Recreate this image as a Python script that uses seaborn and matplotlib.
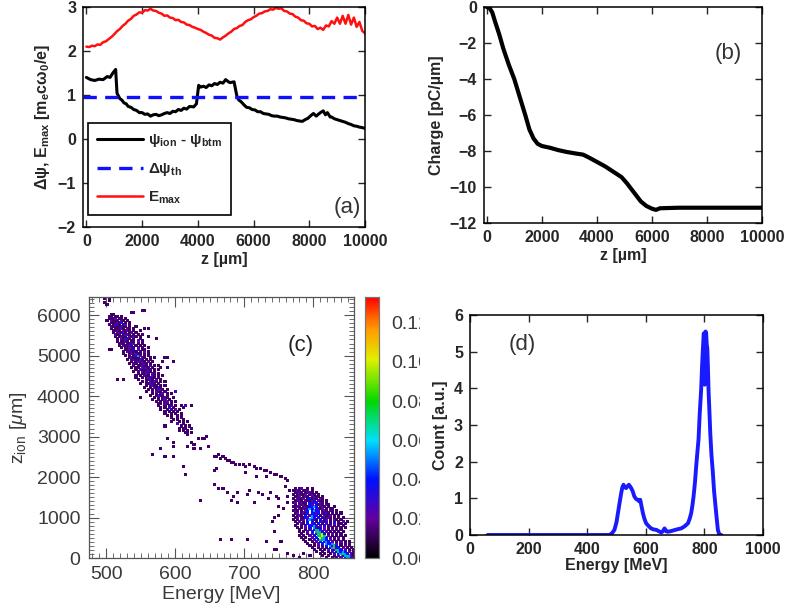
import numpy as np
import pandas as pd
import matplotlib
matplotlib.use("Agg")
import matplotlib.pyplot as plt
import seaborn as sns
from matplotlib.colors import LinearSegmentedColormap
from matplotlib.ticker import MultipleLocator
from matplotlib.transforms import Bbox, TransformedBbox

# ---------------- data ----------------
# (a) max field and potential difference along z  (z in um)
emax_pts = [(0, 2.10), (100, 2.09), (200, 2.12), (300, 2.11), (400, 2.15), (500, 2.14),
            (600, 2.20), (700, 2.22), (800, 2.27), (900, 2.32), (1000, 2.38), (1100, 2.45),
            (1200, 2.50), (1300, 2.57), (1400, 2.62), (1500, 2.69), (1600, 2.73), (1700, 2.80),
            (1800, 2.83), (1900, 2.88), (2000, 2.87), (2100, 2.93), (2200, 2.92), (2300, 2.96),
            (2400, 2.92), (2500, 2.91), (2600, 2.87), (2700, 2.85), (2800, 2.80), (2900, 2.81),
            (3000, 2.76), (3100, 2.75), (3200, 2.70), (3300, 2.71), (3400, 2.66), (3500, 2.65),
            (3600, 2.60), (3700, 2.59), (3800, 2.55), (3900, 2.53), (4000, 2.50), (4100, 2.48),
            (4200, 2.44), (4300, 2.41), (4400, 2.37), (4500, 2.35), (4600, 2.30), (4700, 2.29),
            (4800, 2.26), (4900, 2.31), (5000, 2.35), (5100, 2.40), (5200, 2.44), (5300, 2.50),
            (5400, 2.52), (5500, 2.57), (5600, 2.59), (5700, 2.66), (5800, 2.70), (5900, 2.72),
            (6000, 2.77), (6100, 2.80), (6200, 2.85), (6300, 2.86), (6400, 2.90), (6500, 2.91),
            (6600, 2.95), (6700, 2.94), (6800, 2.98), (6900, 2.96), (7000, 2.97), (7100, 2.91),
            (7200, 2.90), (7300, 2.85), (7400, 2.84), (7500, 2.78), (7600, 2.76), (7700, 2.70),
            (7800, 2.69), (7900, 2.63), (8000, 2.62), (8100, 2.56), (8200, 2.57), (8300, 2.50),
            (8400, 2.53), (8500, 2.48), (8600, 2.58), (8700, 2.56), (8800, 2.68), (8900, 2.62),
            (9000, 2.76), (9100, 2.62), (9200, 2.80), (9300, 2.62), (9400, 2.82), (9500, 2.60),
            (9600, 2.76), (9700, 2.55), (9800, 2.66), (9900, 2.46), (10000, 2.40)]
psi_pts = [(0, 1.40), (150, 1.35), (300, 1.33), (450, 1.36), (600, 1.35), (750, 1.42),
           (850, 1.40), (950, 1.50), (1050, 1.58), (1100, 1.04), (1200, 0.92), (1280, 0.88),
           (1350, 0.82), (1430, 0.80), (1500, 0.74), (1600, 0.72), (1700, 0.67), (1800, 0.65),
           (1900, 0.60), (2000, 0.60), (2100, 0.56), (2200, 0.57), (2300, 0.52), (2400, 0.55),
           (2500, 0.56), (2600, 0.53), (2700, 0.55), (2800, 0.58), (2900, 0.60), (3000, 0.58),
           (3100, 0.63), (3200, 0.62), (3300, 0.67), (3400, 0.65), (3500, 0.70), (3600, 0.68),
           (3700, 0.74), (3850, 0.73), (3950, 0.80), (4030, 1.22), (4100, 1.18), (4200, 1.20),
           (4300, 1.17), (4400, 1.23), (4500, 1.21), (4600, 1.26), (4700, 1.24), (4800, 1.29),
           (4900, 1.27), (5000, 1.35), (5100, 1.30), (5150, 1.28), (5300, 1.30), (5410, 0.95),
           (5480, 0.88), (5550, 0.85), (5650, 0.78), (5750, 0.72), (5850, 0.71), (5950, 0.67),
           (6050, 0.66), (6150, 0.62), (6250, 0.62), (6350, 0.58), (6450, 0.57), (6550, 0.56),
           (6650, 0.53), (6750, 0.52), (6850, 0.52), (6950, 0.50), (7050, 0.49), (7150, 0.48),
           (7250, 0.46), (7350, 0.45), (7450, 0.44), (7550, 0.42), (7650, 0.41), (7750, 0.40),
           (7850, 0.44), (7950, 0.47), (8050, 0.53), (8150, 0.58), (8250, 0.52), (8300, 0.55),
           (8400, 0.60), (8500, 0.64), (8580, 0.55), (8650, 0.60), (8750, 0.50), (8800, 0.50),
           (8900, 0.46), (9000, 0.44), (9100, 0.42), (9200, 0.40), (9300, 0.38), (9400, 0.35),
           (9500, 0.33), (9600, 0.30), (9700, 0.29), (9800, 0.27), (9900, 0.26), (10000, 0.24)]
psi_threshold = 0.95

# (b) charge along z
charge_pts = [(0, 0.0), (100, -0.05), (200, -0.3), (300, -0.8), (450, -1.5), (600, -2.3),
              (800, -3.2), (1000, -4.0), (1200, -5.0), (1400, -6.0), (1550, -6.8), (1700, -7.3),
              (1850, -7.6), (2000, -7.72), (2300, -7.82), (2600, -7.95), (2900, -8.05),
              (3200, -8.13), (3500, -8.2), (3700, -8.35), (4000, -8.6), (4300, -8.85),
              (4600, -9.15), (4900, -9.45), (5100, -9.8), (5300, -10.2), (5450, -10.5),
              (5600, -10.8), (5800, -11.05), (6000, -11.2), (6150, -11.27), (6300, -11.18),
              (7000, -11.15), (8000, -11.15), (9000, -11.15), (10000, -11.15)]

# (d) energy spectrum
spectrum_pts = [(60, 0), (200, 0), (300, 0), (400, 0), (476, 0), (485, 0.05), (493, 0.14),
                (500, 0.35), (505, 0.6), (510, 0.85), (516, 1.14), (520, 1.3), (524, 1.37),
                (528, 1.3), (533, 1.28), (538, 1.33), (542, 1.37), (546, 1.33), (550, 1.28),
                (555, 1.2), (561, 1.05), (567, 0.98), (573, 0.96), (577, 0.92), (581, 0.96),
                (585, 0.8), (590, 0.6), (595, 0.45), (601, 0.32), (610, 0.24), (618, 0.18),
                (627, 0.15), (636, 0.14), (645, 0.1), (653, 0.07), (658, 0.1), (664, 0.18),
                (670, 0.1), (675, 0.09), (683, 0.1), (692, 0.12), (705, 0.15), (721, 0.18),
                (733, 0.24), (744, 0.32), (750, 0.45), (755, 0.6), (759, 0.8), (763, 1.05),
                (768, 1.45), (772, 1.88), (776, 2.25), (780, 2.61), (784, 3.3), (789, 3.98),
                (792, 4.6), (795, 5.1), (798, 5.5), (801, 4.1), (804, 5.55), (806, 5.5),
                (808, 5.2), (810, 5.08), (812, 4.6), (814, 3.98), (817, 3.4), (820, 2.79),
                (824, 2.2), (829, 1.69), (833, 1.2), (838, 0.78), (842, 0.45), (846, 0.14),
                (850, 0.03), (854, 0), (858, 0)]

# (c) ionization position vs energy: cell rows "z_center  E_start  cells"
# cell code: . empty, 1..7 increasing charge
cell_level = {"1": 0.013, "2": 0.022, "3": 0.038, "4": 0.053, "5": 0.075, "6": 0.1, "7": 0.122}
upper_band = [
    "6425 496 1.1", "6375 496 ..1", "6325 496 1", "6275 499 1", "6125 550 1",
    "6075 535 1", "6025 502 .11", "5975 499 .11.11.1", "5925 499 .1112.11.1",
    "5875 499 1.2111.21.1", "5825 502 .111213.1.1", "5775 502 1.1231.12.1",
    "5725 502 .21111211.1..1", "5675 505 1.11121.21.1....1", "5625 505 .1121.2121.1..1",
    "5575 508 1.12131.12.1", "5525 508 .211.1221.1.1.1", "5475 511 1.1211.2121.1...1",
    "5425 511 .1.21231.1..1", "5375 514 1.1121.11.2.1", "5325 514 .121.1132.1.1",
    "5275 517 1.21121.1.1.1", "5225 517 .1.11221.2.1..1", "5175 520 ..11213.2.11",
    "5125 520 .1.21211.1.2.1", "5075 523 1..121211.1.1", "5025 523 .1.1.1342.1.1",
    "4975 526 ..12111.21..1.1....1", "4925 526 .1.121121.1.1", "4875 529 ..1.12321.2.1....1",
    "4825 529 .1.21.1121.1", "4775 532 ..1.11211.2.1.1", "4725 532 .1.11.2321.1...1",
    "4675 535 ..1.211121.1.1", "4625 535 .1.1.21231.1", "4575 538 ..1.1121.21.1",
    "4525 538 .1.1.211.21.1.1", "4475 541 1..1.12311.1", "4425 541 .1...1121.2.1",
    "4375 544 ..1.1.2121.1.1", "4325 544 .1..11231.1", "4275 547 ...1.1211.1.1",
    "4225 547 ..1..1.2131", "4175 550 ...1.1.1221.1", "4125 550 ..1..1.211.1....1",
    "4075 553 ....1.1.12.1.1", "4025 553 ...1..1231.1", "3975 556 ....1.1.121..1",
    "3925 556 ...1..1.12.1", "3875 559 ....1.1.12.1.1", "3825 559 .....11.21.1",
    "3775 562 ....1..1.12.1..1.1", "3725 562 .....1.1.3.1....1", "3675 565 ....1..1.1.2.1",
    "3625 565 ......1.1.1.1", "3575 568 .....1..1.1..1", "3525 568 ......1.1..1.1",
    "3475 571 .......1..1.1", "3425 571 ........1.1..1", "3375 574 ......1...1.1.1",
    "3325 574 .........1..1", "3275 577 ..........1.1.1", "3225 577 .........1..1..1",
    "3175 580 ..........1.1", "3125 580 ...........1..1", "3075 583 ...........1",
]
lower_cluster = [
    "1725 766 ..1.12..1.1", "1675 766 .1121.112.1", "1625 766 ..1121.1121.1",
    "1575 766 .1.12112.121.1", "1525 766 ..112.121.1211.1", "1475 766 .1.2112.13121.21",
    "1425 766 ..1121.21123.211.1", "1375 766 .12.1211.3323.21.1",
    "1325 766 ..1.2121.32.3121.21", "1275 766 .1121.1213343.121.1..1",
    "1225 766 ..1.2121343.3212.1.11", "1175 766 .121.1.23.3433.121.21.1",
    "1125 766 ..12.1213.3323.2131.1.1.1", "1075 766 .1.121.3.2433.1.2112.1.1",
    "1025 766 ..12.1132.43.3.13121.1.1.1", "975 766 .1.1.12.34321.3.12.1.21.1",
    "925 766 ..1.2.1.3.3.1.3213.1.3.1.2.1", "875 766 ...1.21.3.23.3.1.2.1.2.11.1",
    "825 766 ..1..1.2.3342.2.3.12.1.1.1", "775 766 ...1.1.2.3.4313.2.1.1.2.1.1",
    "725 766 ....1..1.2.3542.2.1.2.1.1", "675 766 ....1.1.2.3.4543.2.1.1.1.1",
    "625 766 .....1..1.2.25563.1.2.1.1", "575 766 ....1.1..2.3.4565.2.1.1.1.1",
    "525 766 .....1.1..2.3.6543.2.1.2.1", "475 766 ......1..1.2.35443.2.1.1.1",
    "425 766 .......1..1.2.3.343.2.1.2.1.1", "375 766 ........1..1.2.3.4334.2.1.1.1",
    "325 766 .........1.1.2.1.3.4353.1.2.1", "275 766 ..........1..1.2.1.34733.2.1.1",
    "225 766 ...........1..1.1.2.33543.2.1.1", "175 766 ............1..1..1.2.35343.2.1",
    "125 766 ..............1.1..1.2.34543.21", "75 766 ...............1..1..1.2.345421",
    "25 766 .................1..1.1.2.34432",
]
# isolated cells (energy MeV, z um)
scatter_cells = [
    (553, 6125), (538, 6050), (560, 5680), (572, 5430), (586, 4970), (595, 4890), (588, 4730),
    (598, 4110), (615, 3780), (622, 3780), (507, 5190), (503, 5150), (514, 4400), (525, 4400),
    (547, 3950), (583, 3285), (601, 3300), (606, 3150), (612, 3200), (618, 3110),
    (586, 2960), (596, 2865), (596, 2790), (579, 2720), (567, 2570), (596, 2500), (585, 2540),
    (618, 2790), (622, 2865), (627, 2840), (632, 2960), (637, 2990), (641, 2960), (644, 3040),
    (648, 2790), (634, 2740), (625, 2720), (611, 2250), (615, 2050), (634, 1430),
    (655, 2500), (658, 2530), (661, 2550), (664, 2480), (667, 2520), (670, 2450), (673, 2400),
    (676, 2430), (679, 2380), (683, 2370), (660, 2200), (655, 2150),
    (687, 2330), (692, 2300), (697, 2300), (702, 2280), (707, 2300), (712, 2250), (717, 2230),
    (722, 2200), (727, 2170), (732, 2150), (737, 2120), (742, 2080), (747, 2050), (700, 2100),
    (715, 2000), (730, 2000), (752, 2000), (757, 1950), (762, 1900),
    (655, 1800), (662, 1700), (668, 1720), (675, 1640), (684, 1500), (690, 1600), (703, 1580),
    (708, 1650), (713, 1380), (720, 1620), (725, 1550), (733, 1480), (738, 1600), (745, 1520),
    (750, 1450), (681, 1420), (690, 1360), (742, 1000), (748, 1280), (750, 1080), (740, 900),
    (755, 1200), (760, 1350), (762, 1500), (765, 1650), (758, 1750),
    (742, 690), (752, 430), (732, 420), (705, 450), (680, 450), (665, 460), (742, 200),
    (745, 200), (762, 125), (770, 75), (778, 25), (785, 100), (795, 50),
]
zion_ticks = [0, 1000, 2000, 3000, 4000, 5000, 6000]
cbar_ticks = [0.00, 0.02, 0.04, 0.06, 0.08, 0.10, 0.12]
cbar_top = 0.133

# ---------------- build tables ----------------
z_emax, emax = zip(*emax_pts)
z_psi, psi = zip(*psi_pts)
z_charge, charge = zip(*charge_pts)
energy_d, count_d = zip(*spectrum_pts)

cells = []
for row in upper_band + lower_cluster:
    z_txt, e_txt, code = row.split()
    for i, ch in enumerate(code):
        if ch != ".":
            cells.append((float(e_txt) + 3 * i + 1.5, float(z_txt), cell_level[ch]))
for e, z in scatter_cells:
    cells.append((e, z, cell_level["1"]))
hist_df = pd.DataFrame(cells, columns=["energy", "zion", "w"])

# ---------------- style ----------------
sns.set_style("white")
plt.rcParams["font.family"] = ["Liberation Sans", "DejaVu Sans"]
plt.rcParams["mathtext.fontset"] = "custom"
plt.rcParams["mathtext.rm"] = "Liberation Sans"
plt.rcParams["mathtext.it"] = "Liberation Sans:italic"
plt.rcParams["mathtext.bf"] = "Liberation Sans:bold"

fig = plt.figure(figsize=(7.87, 6.11), dpi=100)
ax_a = fig.add_axes([0.1055, 0.6285, 0.3583, 0.36])
ax_b = fig.add_axes([0.615, 0.635, 0.353, 0.3535])
ax_c = fig.add_axes([0.113, 0.0867, 0.3368, 0.4272])
cax = fig.add_axes([0.4638, 0.0867, 0.0178, 0.4272])
ax_d = fig.add_axes([0.5972, 0.1244, 0.3723, 0.36])


def bold_box(ax):
    for sp in ax.spines.values():
        sp.set_visible(True)
        sp.set_color("black")
        sp.set_linewidth(1.1)
    ax.tick_params(direction="in", length=5, width=1.0, top=True, right=True,
                   bottom=True, left=True, labelsize=11.5, pad=5)
    for lbl in ax.get_xticklabels() + ax.get_yticklabels():
        lbl.set_fontweight("bold")


# (a)
sns.lineplot(x=z_psi, y=psi, ax=ax_a, color="black", lw=2.2, sort=False)
ax_a.axhline(psi_threshold, color="#1010ff", lw=2.4, dashes=(4, 2.5))
sns.lineplot(x=z_emax, y=emax, ax=ax_a, color="#ff1010", lw=1.8, sort=False)
ax_a.set_xlim(-120, 10000)
ax_a.set_ylim(-2, 3)
ax_a.set_xticks([0, 2000, 4000, 6000, 8000, 10000])
ax_a.set_yticks([-2, -1, 0, 1, 2, 3])
bold_box(ax_a)
ax_a.set_xlabel("z [µm]", fontsize=11.5, fontweight="bold", labelpad=2)
ax_a.set_ylabel("Δψ, E$_{\\mathbf{max}}$ [m$_{\\mathbf{e}}$cω$_{\\mathbf{0}}$/e]",
                fontsize=11.5, fontweight="bold", labelpad=4)
lines = ax_a.get_lines()
leg = ax_a.legend([lines[0], lines[1], lines[2]],
                  ["ψ$_{\\mathbf{ion}}$ - ψ$_{\\mathbf{btm}}$", "Δψ$_{\\mathbf{th}}$",
                   "E$_{\\mathbf{max}}$"],
                  loc="lower left", bbox_to_anchor=(0.018, 0.055), borderaxespad=0,
                  fancybox=False, edgecolor="black", framealpha=1,
                  prop=dict(weight="bold", size=11), handlelength=3.0,
                  labelspacing=0.75, borderpad=0.6, handletextpad=0.3)
leg.get_frame().set_linewidth(1.2)
ax_a.text(0.985, 0.09, "(a)", transform=ax_a.transAxes, ha="right", va="center",
          fontsize=16, color="#333333")

# (b)
sns.lineplot(x=z_charge, y=charge, ax=ax_b, color="black", lw=3.0, sort=False)
ax_b.set_xlim(-100, 10000)
ax_b.set_ylim(-12, 0)
ax_b.set_xticks([0, 2000, 4000, 6000, 8000, 10000])
ax_b.set_yticks([0, -2, -4, -6, -8, -10, -12])
bold_box(ax_b)
ax_b.set_xlabel("z [µm]", fontsize=11.5, fontweight="bold", labelpad=2)
ax_b.set_ylabel("Charge [pC/µm]", fontsize=11.5, fontweight="bold", labelpad=4)
ax_b.text(0.878, 0.787, "(b)", transform=ax_b.transAxes, ha="center", va="center",
          fontsize=16, color="#333333")

# (c)
idl_rainbow = LinearSegmentedColormap.from_list(
    "idl_rainbow",
    [(0.0, "#000000"), (0.15, "#6400a0"), (0.3, "#0010ff"), (0.45, "#00e0ff"),
     (0.6, "#00d800"), (0.76, "#e0f000"), (0.88, "#ff9a00"), (1.0, "#ff0000")])
sns.histplot(data=hist_df, x="energy", y="zion", weights="w", ax=ax_c,
             bins=[np.arange(475, 860, 3), np.arange(0, 6451, 50)],
             cmap=idl_rainbow, vmax=cbar_top, cbar=True, cbar_ax=cax)
mesh = ax_c.collections[0]
mesh.set_clim(0, cbar_top)
mesh.set_edgecolor("face")
mesh.set_linewidth(0.6)
ax_c.set_xlim(475, 859)
ax_c.set_ylim(0, 6450)
ax_c.set_xticks([500, 600, 700, 800])
ax_c.set_yticks(zion_ticks)
ax_c.xaxis.set_minor_locator(MultipleLocator(10))
ax_c.yaxis.set_minor_locator(MultipleLocator(100))
for sp in ax_c.spines.values():
    sp.set_visible(True)
    sp.set_color("#555555")
    sp.set_linewidth(0.9)
ax_c.tick_params(which="both", direction="in", top=True, right=True, bottom=True, left=True,
                 color="#555555", labelcolor="#3a3a3a", labelsize=14)
ax_c.tick_params(which="major", length=7, width=0.8, pad=6)
ax_c.tick_params(which="minor", length=3.5, width=0.6)
ax_c.set_xlabel("Energy [MeV]", fontsize=14, color="#3a3a3a", labelpad=2)
ax_c.set_ylabel("z$_{\\mathrm{ion}}$ [$\\mu$m]", fontsize=14, color="#3a3a3a", labelpad=6)
ax_c.text(0.80, 0.816, "(c)", transform=ax_c.transAxes, ha="center", va="center",
          fontsize=16, color="#222222")

cax.set_ylim(0, cbar_top)
cax.set_yticks(cbar_ticks)
cax.set_yticklabels([f"{t:.2f}" for t in cbar_ticks])
cax.tick_params(length=0, labelsize=14, labelcolor="#3a3a3a", pad=9)
for sp in cax.spines.values():
    sp.set_visible(True)
    sp.set_color("#777777")
    sp.set_linewidth(0.8)
clip = TransformedBbox(Bbox([[0, 0], [420 / 787, 1]]), fig.transFigure)
for lbl in cax.get_yticklabels():
    lbl.set_clip_box(clip)
    lbl.set_clip_on(True)

# (d)
sns.lineplot(x=energy_d, y=count_d, ax=ax_d, color="#1a1aff", lw=2.8, sort=False)
ax_d.set_xlim(0, 1000)
ax_d.set_ylim(0, 6)
ax_d.set_xticks([0, 200, 400, 600, 800, 1000])
ax_d.set_yticks([0, 1, 2, 3, 4, 5, 6])
bold_box(ax_d)
ax_d.set_xlabel("Energy [MeV]", fontsize=11.5, fontweight="bold", labelpad=1)
ax_d.set_ylabel("Count [a.u.]", fontsize=11.5, fontweight="bold", labelpad=4)
ax_d.text(0.177, 0.864, "(d)", transform=ax_d.transAxes, ha="center", va="center",
          fontsize=16, color="#333333")

fig.savefig("out.png", dpi=100)
